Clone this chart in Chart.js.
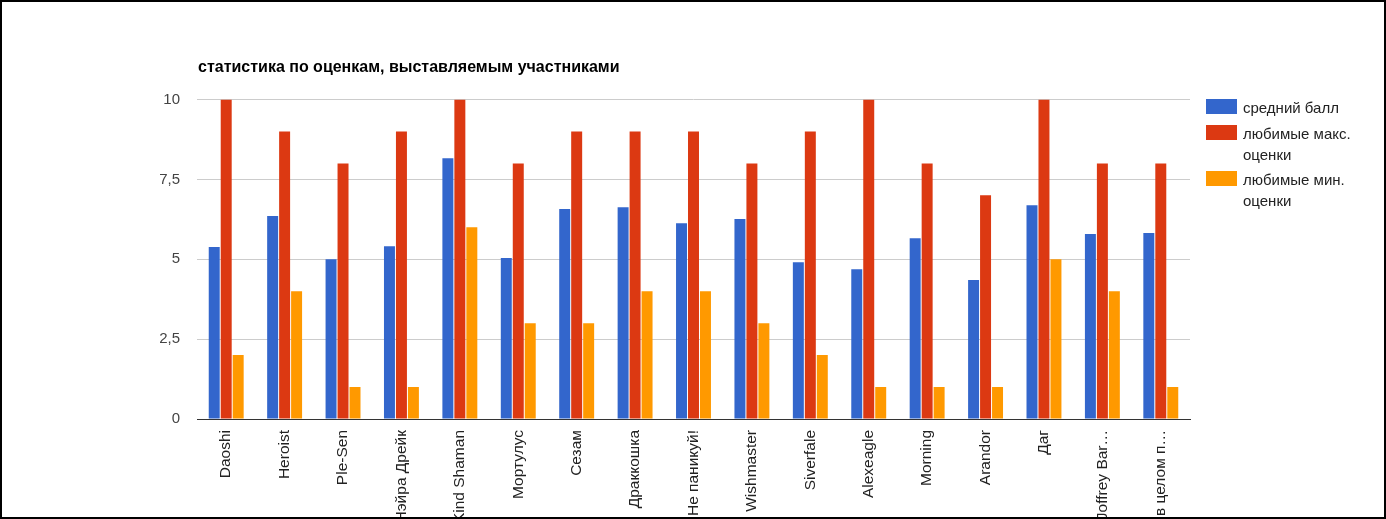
<!DOCTYPE html>
<html>
<head>
<meta charset="utf-8">
<script src="https://cdn.jsdelivr.net/npm/chart.js@4"></script>
<style>
    html, body { margin: 0; padding: 0; background: #fff; overflow: hidden; }
    #frame {
        position: relative;
        width: 1386px;
        height: 519px;
        box-sizing: border-box;
        border: 2px solid #000;
        overflow: hidden;
        font-family: Arial, "Liberation Sans", sans-serif;
    }
    #chartBox { position: absolute; left: 0; top: 0; width: 1382px; height: 515px; }
    #title {
        position: absolute;
        left: 196px;
        top: 57px;
        font-size: 16px;
        line-height: 16px;
        font-weight: bold;
        color: #000;
        white-space: nowrap;
    }
    #legend { position: absolute; left: 1204px; top: 95px; }
    .item { display: flex; align-items: flex-start; margin-bottom: 4.5px; }
    .swatch { width: 31px; height: 15px; margin-top: 2px; margin-right: 6px; flex: none; }
    .label { width: 135px; font-size: 15px; line-height: 21px; color: #222; }
</style>
</head>
<body>
<div id="frame">
    <div id="chartBox"><canvas id="ratingsChart"></canvas></div>
    <div id="title">статистика по оценкам, выставляемым участниками</div>
    <div id="legend"></div>
</div>

<script>
const participants = ["Daoshi", "Heroist", "Ple-Sen", "Нэйра Дрейк", "Kind Shaman", "Мортулус", "Сезам",
    "Драккошка", "Не паникуй!", "Wishmaster", "Siverfale", "Alexeagle", "Morning", "Arandor", "Даг",
    "Joffrey Bar…", "в целом п…"]

const avgScore = [5.38, 6.35, 5.0, 5.41, 8.16, 5.04, 6.57, 6.63, 6.13, 6.26, 4.91, 4.69, 5.66, 4.35, 6.69, 5.79, 5.82]
const favMax = [10, 9, 8, 9, 10, 8, 9, 9, 9, 8, 9, 10, 8, 7, 10, 8, 8]
const favMin = [2, 4, 1, 1, 6, 3, 3, 4, 4, 3, 2, 1, 1, 1, 5, 4, 1]

const seriesNames = ["средний балл", "любимые макс. оценки", "любимые мин. оценки"]
const seriesColors = ["#3366cc", "#dc3912", "#ff9900"]
const yTicks = [0, 2.5, 5, 7.5, 10]

const FONT = "Arial, 'Liberation Sans', sans-serif"

const datasets = [avgScore, favMax, favMin].map((values, i) => ({
    label: seriesNames[i],
    data: values,
    backgroundColor: seriesColors[i],
    borderWidth: 0,
    categoryPercentage: 0.615,
    barPercentage: 0.917
}))

const chart = new Chart(document.getElementById("ratingsChart").getContext("2d"), {
    type: "bar",
    data: { labels: participants, datasets },
    options: {
        responsive: true,
        maintainAspectRatio: false,
        animation: false,
        layout: { padding: { top: 97.5, right: 194, bottom: 0, left: 0 } },
        plugins: {
            legend: { display: false },
            tooltip: { enabled: false }
        },
        scales: {
            x: {
                grid: { display: false, drawTicks: false },
                border: { display: true, color: "#333", width: 1 },
                ticks: {
                    autoSkip: false,
                    minRotation: 90,
                    maxRotation: 90,
                    padding: 11,
                    color: "#222",
                    font: { family: FONT, size: 15.5 }
                },
                afterFit: (scale) => { scale.height = 98 }
            },
            y: {
                min: 0,
                max: 10,
                afterBuildTicks: (scale) => { scale.ticks = yTicks.map(v => ({ value: v })) },
                grid: { color: "#cccccc", drawTicks: false },
                border: { display: false },
                ticks: {
                    padding: 17,
                    color: "#444",
                    font: { family: FONT, size: 15 },
                    callback: (value) => String(value).replace(".", ",")
                },
                afterFit: (scale) => { scale.width = 195 }
            }
        }
    }
})

// legend drawn as html so the long names can wrap onto two lines
const legend = document.getElementById("legend")
chart.data.datasets.forEach(ds => {
    const item = document.createElement("div")
    item.className = "item"
    item.innerHTML = `<span class="swatch" style="background:${ds.backgroundColor}"></span><span class="label">${ds.label}</span>`
    legend.appendChild(item)
})
</script>
</body>
</html>
